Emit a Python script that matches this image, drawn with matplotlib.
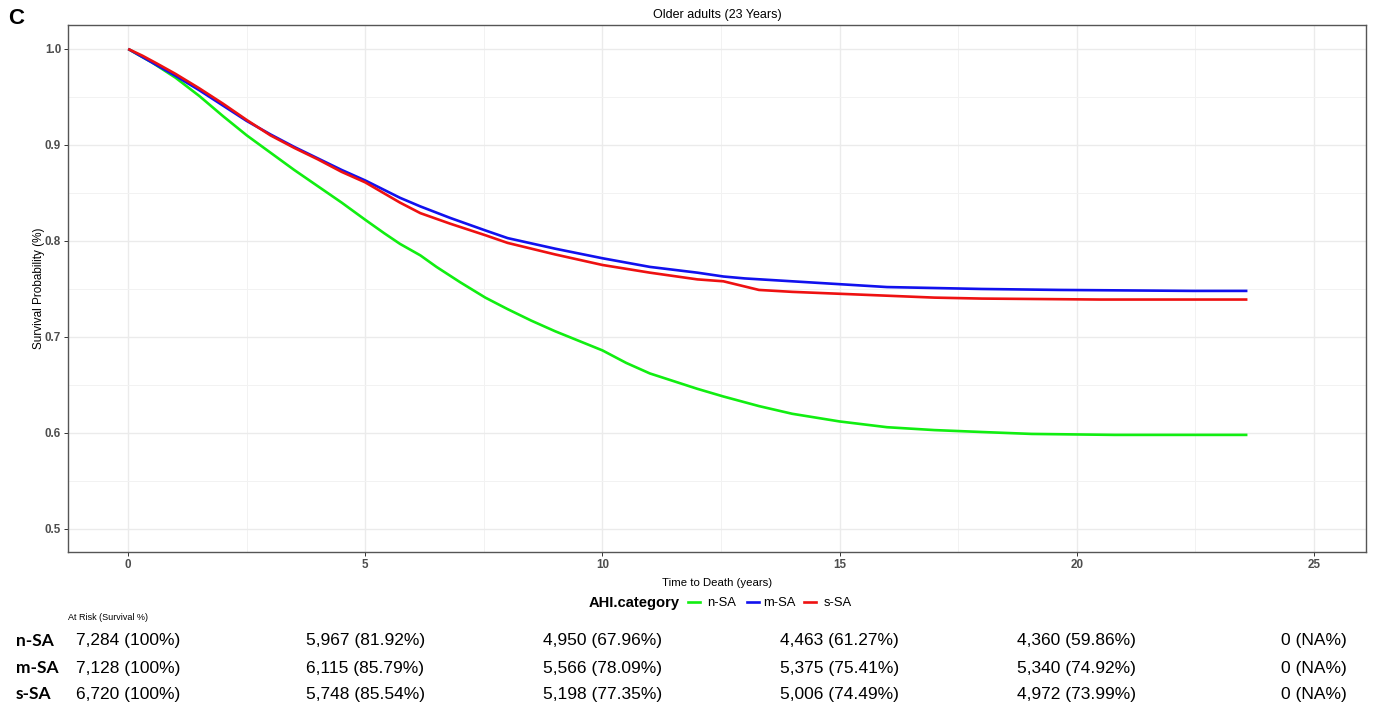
"""Kaplan-Meier style survival curves for older adults by AHI category, with an at-risk table."""
import matplotlib
matplotlib.use("Agg")
import matplotlib.pyplot as plt
import matplotlib.transforms as mtransforms
from matplotlib.lines import Line2D
from matplotlib.ticker import MultipleLocator

# survival curves (time in years, survival probability)
t_nsa = [0, 0.5, 1, 1.5, 2, 2.5, 3, 3.5, 4, 4.5, 5, 5.4, 5.73, 6.16, 6.5, 7, 7.53, 8, 8.5, 9,
         9.5, 10, 10.5, 11, 12, 12.55, 13.3, 14, 15, 16, 17, 18, 19.05, 20.8, 23.6]
s_nsa = [1.0, 0.986, 0.970, 0.951, 0.930, 0.910, 0.892, 0.874, 0.857, 0.840, 0.822, 0.808, 0.797,
         0.785, 0.773, 0.757, 0.741, 0.729, 0.717, 0.706, 0.696, 0.686, 0.673, 0.662, 0.646, 0.638,
         0.628, 0.620, 0.612, 0.606, 0.603, 0.601, 0.599, 0.598, 0.598]

t_msa = [0, 0.5, 1, 1.5, 2, 2.5, 3, 3.5, 4, 4.5, 5, 5.73, 6.16, 6.79, 7.53, 8, 9, 10, 11, 12,
         12.55, 13, 14, 15, 16, 17, 18, 19.65, 22.45, 23.6]
s_msa = [1.0, 0.986, 0.972, 0.957, 0.941, 0.925, 0.911, 0.898, 0.886, 0.874, 0.863, 0.845, 0.836,
         0.824, 0.811, 0.803, 0.792, 0.782, 0.773, 0.767, 0.763, 0.761, 0.758, 0.755, 0.752, 0.751,
         0.750, 0.749, 0.748, 0.748]

t_ssa = [0, 0.3, 0.6, 1, 1.5, 2, 2.5, 3, 3.5, 4, 4.5, 5, 5.73, 6.16, 6.79, 7.53, 8, 9, 10, 11,
         12, 12.55, 13.3, 14, 15, 16, 17, 18, 20.5, 23.6]
s_ssa = [1.0, 0.993, 0.985, 0.974, 0.959, 0.943, 0.926, 0.910, 0.897, 0.885, 0.872, 0.861, 0.840,
         0.829, 0.818, 0.806, 0.798, 0.786, 0.775, 0.767, 0.760, 0.758, 0.749, 0.747, 0.745, 0.743,
         0.741, 0.740, 0.739, 0.739]

groups = ["n-SA", "m-SA", "s-SA"]
colors = ["#11ee11", "#1111ee", "#ee1111"]

# at-risk table
risk_times = [0, 5, 10, 15, 20, 25]
risk_nsa = ["7,284 (100%)", "5,967 (81.92%)", "4,950 (67.96%)", "4,463 (61.27%)", "4,360 (59.86%)", "0 (NA%)"]
risk_msa = ["7,128 (100%)", "6,115 (85.79%)", "5,566 (78.09%)", "5,375 (75.41%)", "5,340 (74.92%)", "0 (NA%)"]
risk_ssa = ["6,720 (100%)", "5,748 (85.54%)", "5,198 (77.35%)", "5,006 (74.49%)", "4,972 (73.99%)", "0 (NA%)"]

W, H = 1379, 707
fig = plt.figure(figsize=(W / 100, H / 100), dpi=100)
plt.rcParams["font.family"] = ["Liberation Sans", "DejaVu Sans"]


def fy(px):
    return 1 - px / H


ax = fig.add_axes([68 / W, fy(552), (1366 - 68) / W, (552 - 25) / H])
curves = [(t_nsa, s_nsa), (t_msa, s_msa), (t_ssa, s_ssa)]
for (t, s), c in zip(curves, colors):
    ax.plot(t, s, color=c, lw=1.9, solid_capstyle="butt", solid_joinstyle="round", zorder=3)

ax.set_xlim(-1.27, 26.1)
ax.set_ylim(0.476, 1.025)
ax.xaxis.set_minor_locator(MultipleLocator(2.5))
ax.yaxis.set_minor_locator(MultipleLocator(0.05))
ax.set_xticks([0, 5, 10, 15, 20, 25])
ax.set_xticklabels(["0", "5", "10", "15", "20", "25"])
ax.set_yticks([0.5, 0.6, 0.7, 0.8, 0.9, 1.0])
ax.set_yticklabels(["0.5", "0.6", "0.7", "0.8", "0.9", "1.0"])
ax.grid(which="major", color="#ebebeb", lw=1.0, zorder=0)
ax.grid(which="minor", color="#f2f2f2", lw=0.7, zorder=0)
ax.set_axisbelow(True)
ax.tick_params(which="major", length=3, width=0.7, color="#333333", pad=2,
               labelsize=8.4, labelcolor="#4d4d4d")
ax.tick_params(which="minor", length=0)
for lab in ax.get_xticklabels() + ax.get_yticklabels():
    lab.set_fontweight("bold")
for sp in ax.spines.values():
    sp.set_color("#555555")
    sp.set_linewidth(1.0)

ax.set_xlabel("Time to Death (years)", fontsize=8.2, labelpad=5)
ax.set_ylabel("Survival Probability (%)", fontsize=8.5, labelpad=0)
ax.set_title("Older adults (23 Years)", fontsize=9, pad=5)

fig.text(8 / W, fy(18), "C", fontsize=16, fontweight="bold", va="center", ha="left")

# legend row, ggplot style: bold title to the left of the keys
fig.text(589 / W, fy(603), "AHI.category", fontsize=10.6, fontweight="bold", va="center", ha="left")
key_x = [688, 747, 804]
lab_x = [707, 763, 824]
for g, c, kx, lx in zip(groups, colors, key_x, lab_x):
    fig.add_artist(Line2D([kx / W, (kx + 12) / W], [fy(602), fy(602)], color=c, lw=1.9))
    fig.text(lx / W, fy(603), g, fontsize=9.4, va="center", ha="left")

# at-risk table, columns follow the x axis
blend = mtransforms.blended_transform_factory(ax.transData, fig.transFigure)
fig.text(68 / W, fy(617), "At Risk (Survival %)", fontsize=6.5, va="center", ha="left")
rows_y = [641, 668, 694]
for g, vals, yy in zip(groups, [risk_nsa, risk_msa, risk_ssa], rows_y):
    fig.text(16 / W, fy(yy), g, fontsize=12.5, fontweight="bold", family=["Lato", "DejaVu Sans"],
             va="center", ha="left")
    for t, v in zip(risk_times, vals):
        ax.text(t, fy(yy), v, transform=blend, fontsize=12.5, va="center", ha="center", clip_on=False)

fig.savefig("out.png", dpi=100)
